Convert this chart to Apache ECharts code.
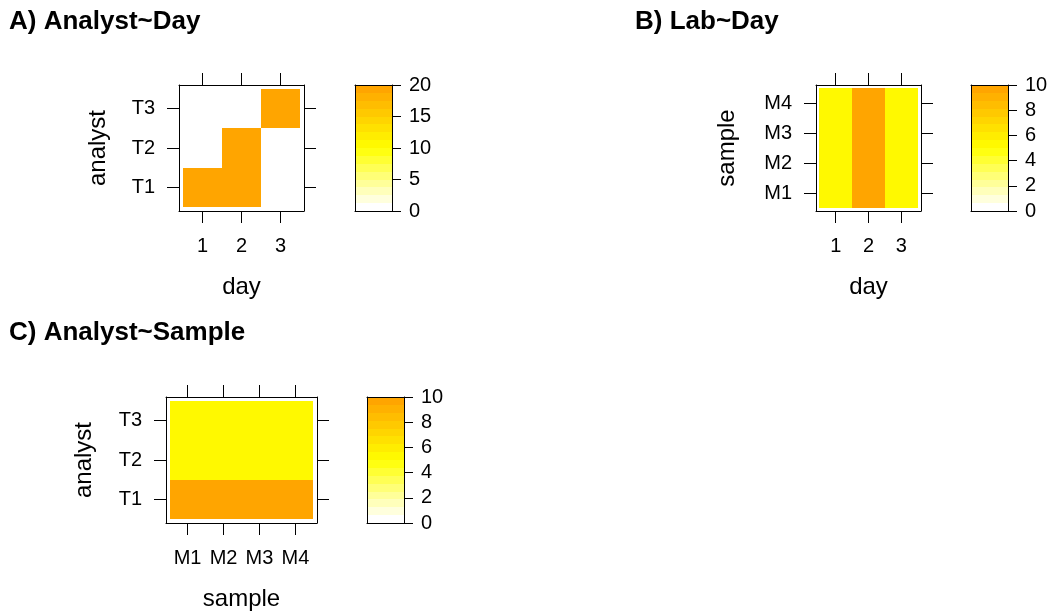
<!DOCTYPE html>
<html>
<head>
<meta charset="utf-8">
<script src="https://cdn.jsdelivr.net/npm/echarts@6/dist/echarts.min.js"></script>
<style>
  html, body { margin: 0; padding: 0; background: #ffffff; }
  #chart { width: 1052px; height: 613px; }
</style>
</head>
<body>
<div id="chart"></div>
<script>
// Factor levels
const days = ['1', '2', '3'];
const analysts = ['T1', 'T2', 'T3'];
const samples = ['M1', 'M2', 'M3', 'M4'];

// Counts: one row per y level, one column per x level
const analystByDay = [
  [20, 20, 0],   // T1
  [0, 20, 0],    // T2
  [0, 0, 20]     // T3
];
const sampleByDay = [
  [5, 10, 5],    // M1
  [5, 10, 5],    // M2
  [5, 10, 5],    // M3
  [5, 10, 5]     // M4
];
const analystBySample = [
  [10, 10, 10, 10], // T1
  [5, 5, 5, 5],     // T2
  [5, 5, 5, 5]      // T3
];

// Colour key ranges and tick steps
const keyMaxA = 20, keyStepA = 5;
const keyMaxBC = 10, keyStepBC = 2;

const panelTitles = ['A) Analyst~Day', 'B) Lab~Day', 'C) Analyst~Sample'];

// ---------------------------------------------------------------
const FONT = '"Liberation Sans", Arial, Helvetica, sans-serif';
const NCOLS = 16; // number of colour bands (cuts = 15)

// white -> yellow -> orange ramp
function ramp(t) {
  const stops = [[255, 255, 255], [255, 255, 0], [255, 165, 0]];
  const s = t * 2;
  const i = Math.min(1, Math.floor(s));
  const f = s - i;
  const a = stops[i], b = stops[i + 1];
  const c = a.map((v, k) => Math.round(v + (b[k] - v) * f));
  return 'rgb(' + c.join(',') + ')';
}
function bandColor(idx) { return ramp(idx / (NCOLS - 1)); }
function levelColor(v, zmax) {
  const idx = Math.min(NCOLS - 1, Math.floor(v / zmax * NCOLS));
  return bandColor(idx);
}

const panels = [
  {
    title: panelTitles[0], titlePos: { left: 9, top: 9 },
    xCats: days, yCats: analysts, xName: 'day', yName: 'analyst', z: analystByDay,
    grid: { left: 179, top: 85, width: 125, height: 126 },
    key: { left: 355, top: 85, width: 37, height: 126 },
    keyMax: keyMaxA, keyStep: keyStepA, yNameGap: 69, xNameGap: 64
  },
  {
    title: panelTitles[1], titlePos: { left: 635, top: 9 },
    xCats: days, yCats: samples, xName: 'day', yName: 'sample', z: sampleByDay,
    grid: { left: 816, top: 85, width: 105, height: 126 },
    key: { left: 971, top: 85, width: 37, height: 126 },
    keyMax: keyMaxBC, keyStep: keyStepBC, yNameGap: 77, xNameGap: 64
  },
  {
    title: panelTitles[2], titlePos: { left: 9, top: 320 },
    xCats: samples, yCats: analysts, xName: 'sample', yName: 'analyst', z: analystBySample,
    grid: { left: 166, top: 397, width: 151, height: 126 },
    key: { left: 367, top: 397, width: 37, height: 126 },
    keyMax: keyMaxBC, keyStep: keyStepBC, yNameGap: 70, xNameGap: 64
  }
];

const lineStyle = { color: '#000000', width: 1 };
const title = [], grid = [], xAxis = [], yAxis = [], series = [];

function catAxis(cats, extra) {
  const idx = cats.map((_, i) => i + 1);
  return Object.assign({
    type: 'value', min: 0.4, max: cats.length + 0.6,
    z: 10,
    splitLine: { show: false },
    axisLine: { show: true, onZero: false, lineStyle },
    axisTick: { show: true, inside: false, length: 12, lineStyle, customValues: idx },
    axisLabel: {
      show: true, customValues: idx, color: '#000', fontSize: 20, fontFamily: FONT,
      formatter: v => cats[Math.round(v) - 1]
    }
  }, extra);
}

// filled rectangle between two data corners, snapped to whole pixels
function snappedRect(a, b, fill) {
  const x0 = Math.round(a[0]), y0 = Math.round(a[1]);
  const x1 = Math.round(b[0]), y1 = Math.round(b[1]);
  return {
    type: 'rect',
    shape: { x: x0, y: y0, width: x1 - x0, height: y1 - y0 },
    style: { fill, stroke: null }
  };
}

panels.forEach((p) => {
  title.push({
    text: p.title, left: p.titlePos.left, top: p.titlePos.top, padding: 0,
    textStyle: { fontSize: 26, fontWeight: 'bold', color: '#000', fontFamily: FONT }
  });

  // ---- level plot panel
  const g = grid.length;
  grid.push(Object.assign({ containLabel: false }, p.grid));
  const xi = xAxis.length, yi = yAxis.length;
  xAxis.push(catAxis(p.xCats, {
    gridIndex: g, position: 'bottom',
    name: p.xName, nameLocation: 'middle', nameGap: p.xNameGap,
    nameTextStyle: { fontSize: 24, color: '#000', fontFamily: FONT }
  }));
  xAxis[xi].axisLabel.margin = 25;
  const xTop = catAxis(p.xCats, { gridIndex: g, position: 'top' });
  xTop.axisLabel.show = false;
  xAxis.push(xTop);
  yAxis.push(catAxis(p.yCats, {
    gridIndex: g, position: 'left',
    name: p.yName, nameLocation: 'middle', nameGap: p.yNameGap,
    nameTextStyle: { fontSize: 24, color: '#000', fontFamily: FONT }
  }));
  yAxis[yi].axisLabel.margin = 24;
  const yRight = catAxis(p.yCats, { gridIndex: g, position: 'right' });
  yRight.axisLabel.show = false;
  yAxis.push(yRight);

  const cells = [];
  p.z.forEach((row, r) => row.forEach((v, c) => cells.push([c + 1, r + 1, v])));
  const zmax = p.keyMax;
  series.push({
    type: 'custom', xAxisIndex: xi, yAxisIndex: yi, z: 2,
    data: cells, silent: true, animation: false,
    renderItem: (params, api) => {
      const x = api.value(0), y = api.value(1), v = api.value(2);
      return snappedRect(api.coord([x - 0.5, y + 0.5]), api.coord([x + 0.5, y - 0.5]), levelColor(v, zmax));
    }
  });

  // ---- colour key
  const kg = grid.length;
  grid.push(Object.assign({ containLabel: false }, p.key));
  const kxi = xAxis.length, kyi = yAxis.length;
  const frameAxis = {
    type: 'value', min: 0, max: 1, z: 10,
    splitLine: { show: false },
    axisLine: { show: true, onZero: false, lineStyle },
    axisTick: { show: false }, axisLabel: { show: false }
  };
  xAxis.push(Object.assign({}, frameAxis, { gridIndex: kg, position: 'bottom' }));
  xAxis.push(Object.assign({}, frameAxis, { gridIndex: kg, position: 'top' }));
  yAxis.push({
    type: 'value', gridIndex: kg, position: 'right', min: 0, max: p.keyMax, interval: p.keyStep, z: 10,
    splitLine: { show: false },
    axisLine: { show: true, onZero: false, lineStyle },
    axisTick: { show: true, inside: false, length: 9, lineStyle },
    axisLabel: { show: true, margin: 17, color: '#000', fontSize: 20, fontFamily: FONT }
  });
  yAxis.push(Object.assign({}, frameAxis, { gridIndex: kg, position: 'left', min: 0, max: p.keyMax }));

  const bands = [];
  const step = p.keyMax / NCOLS;
  for (let i = 0; i < NCOLS; i++) bands.push([i * step, (i + 1) * step, i]);
  series.push({
    type: 'custom', xAxisIndex: kxi, yAxisIndex: kyi, z: 2,
    data: bands, silent: true, animation: false,
    encode: { y: [0, 1] },
    renderItem: (params, api) => {
      const lo = api.value(0), hi = api.value(1), i = api.value(2);
      return snappedRect(api.coord([0, hi]), api.coord([1, lo]), bandColor(i));
    }
  });
});

const chart = echarts.init(document.getElementById('chart'), null, { renderer: 'canvas' });
chart.setOption({
  backgroundColor: '#ffffff',
  animation: false,
  title, grid, xAxis, yAxis, series
});
</script>
</body>
</html>
